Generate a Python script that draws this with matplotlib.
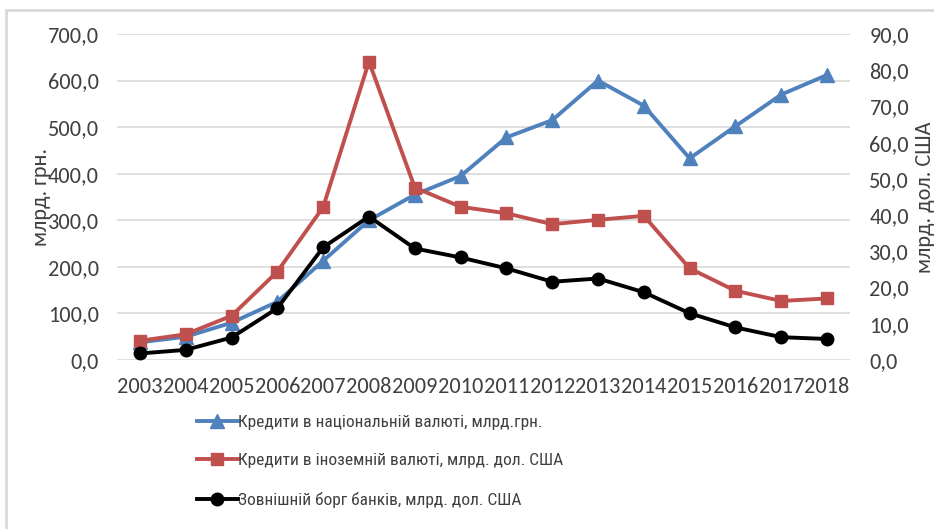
import matplotlib.pyplot as plt
from matplotlib.patches import Rectangle

years = [str(y) for y in range(2003, 2019)]
loans_uah = [38, 50, 80, 125, 213, 300, 355, 395, 478, 515, 600, 546, 433, 502, 570, 612]
loans_fx = [5.3, 7.1, 12.2, 24.4, 42.2, 82.4, 47.6, 42.3, 40.5, 37.5, 38.7, 39.8, 25.3, 19.1, 16.3, 17.0]
bank_debt = [1.8, 2.8, 6.2, 14.3, 31.1, 39.6, 30.8, 28.3, 25.3, 21.6, 22.5, 18.7, 12.9, 9.0, 6.3, 5.8]

left_ticks = [0, 100, 200, 300, 400, 500, 600, 700]
right_ticks = [0, 10, 20, 30, 40, 50, 60, 70, 80, 90]

labels = ['Кредити в національній валюті, млрд.грн.',
          'Кредити в іноземній валюті, млрд. дол. США',
          'Зовнішній борг банків, млрд. дол. США']

# Calibri look-alike first, fall back if missing
plt.rcParams['font.family'] = ['Carlito', 'Lato', 'DejaVu Sans']
text_color = '#404040'
fsize = 16

fig = plt.figure(figsize=(9.34, 5.29), dpi=100)
ax = fig.add_axes([117 / 934, 1 - 360 / 529, (850 - 117) / 934, (360 - 34) / 529])
ax2 = ax.twinx()

x = list(range(len(years)))
l1, = ax.plot(x, loans_uah, color='#4F81BD', lw=2.8, marker='^', ms=10, label=labels[0])
l2, = ax2.plot(x, loans_fx, color='#C0504D', lw=2.8, marker='s', ms=9, label=labels[1])
l3, = ax2.plot(x, bank_debt, color='#000000', lw=2.8, marker='o', ms=9, label=labels[2])

ax.set_xlim(-0.5, len(years) - 0.5)
ax.set_ylim(0, 700)
ax2.set_ylim(0, 90)
ax.set_yticks(left_ticks)
ax2.set_yticks(right_ticks)
ax.set_yticklabels([f'{v:.1f}'.replace('.', ',') for v in left_ticks])
ax2.set_yticklabels([f'{v:.1f}'.replace('.', ',') for v in right_ticks])
ax.set_xticks(x)
ax.set_xticklabels(years)

ax.grid(axis='y', color='#D9D9D9', lw=1.2)
ax.set_axisbelow(True)
for a in (ax, ax2):
    for s in a.spines.values():
        s.set_visible(False)
    a.tick_params(length=0, labelsize=fsize, colors=text_color)
ax.tick_params(axis='y', pad=13)
ax2.tick_params(axis='y', pad=14)
ax.tick_params(axis='x', pad=12)

ax.set_ylabel('млрд. грн.', fontsize=fsize, color=text_color, labelpad=-2)
ax2.set_ylabel('млрд. дол. США', fontsize=fsize, color=text_color, labelpad=4)

fig.legend(handles=[l1, l2, l3], loc='upper left', bbox_to_anchor=(181 / 934, 1 - 399 / 529),
           frameon=False, prop={'family': ['Roboto Condensed', 'Carlito', 'Lato'], 'size': 12.5},
           labelspacing=1.35, handlelength=2.4, handletextpad=0.0, labelcolor=text_color)

fig.patches.append(Rectangle((6 / 934, -0.1), 1.2, 1.1 - 10 / 529, transform=fig.transFigure,
                             fill=False, edgecolor='#D9D9D9', lw=2))

fig.savefig('out.png', dpi=100)
